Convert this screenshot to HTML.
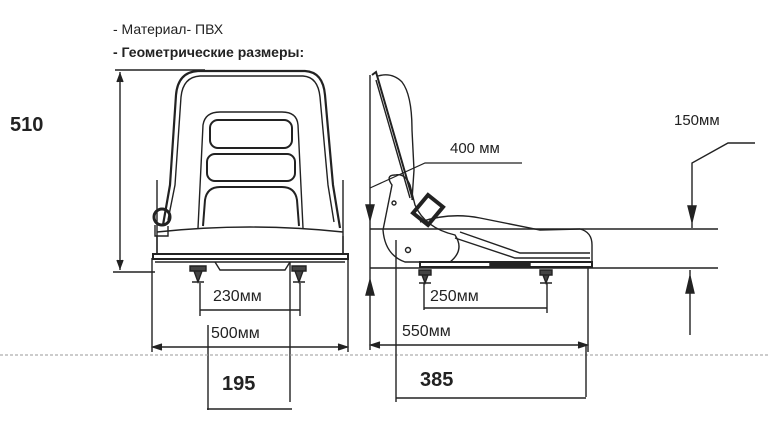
<!DOCTYPE html>
<html><head><meta charset="utf-8"><style>
html,body{margin:0;padding:0;background:#fff}
svg{display:block}
text{font-family:"Liberation Sans",sans-serif;fill:#222}
</style></head><body>
<svg width="768" height="443" viewBox="0 0 768 443" xmlns="http://www.w3.org/2000/svg">
<text x="113" y="34" font-size="14">- Материал- ПВХ</text>
<text x="113" y="57" font-size="14" font-weight="bold">- Геометрические размеры:</text>
<text x="10" y="131" font-size="20" font-weight="bold">510</text>

<g stroke="#222" fill="none" stroke-width="1.4">
<line x1="115" y1="70" x2="205" y2="70"/>
<line x1="120" y1="72" x2="120" y2="270"/>
<line x1="113" y1="272" x2="155" y2="272"/>
<path d="M117,82 L120,74 L123,82" fill="#222"/>
<path d="M117,260 L120,268 L123,260" fill="#222"/>
<path d="M163,225 L170,185 L176,95 Q178,72 198,71 L305,71 Q323,72 325,95 L333,185 L340,228" stroke-width="2.2"/>
<path d="M168,220 L175,185 L181,97 Q183,77 200,76 L303,76 Q318,77 320,97 L328,185 L334,222"/>
<line x1="157" y1="180" x2="157" y2="255"/>
<line x1="343" y1="180" x2="343" y2="255"/>
<path d="M198,228 L203,125 Q205,112 220,112 L282,112 Q297,112 298,125 L303,228"/>
<rect x="210" y="120" width="82" height="28" rx="8" stroke-width="2"/>
<rect x="207" y="154" width="88" height="27" rx="8" stroke-width="2"/>
<path d="M203,226 L205,200 Q207,187 220,187 L282,187 Q295,187 297,200 L299,226" stroke-width="2"/>
<circle cx="162" cy="217" r="8" stroke-width="3"/>
<path d="M155,225 L155,236 L168,236 L168,226"/>
<path d="M157,232 Q250,222 343,232"/>
<path d="M157,255 L157,236 M343,236 L343,255"/>
<rect x="153" y="254" width="195" height="5" stroke-width="2"/>
<line x1="155" y1="262" x2="345" y2="262"/>
<path d="M215,262 L220,270 L285,270 L290,262"/>
<path d="M190,266 h16 v5 h-16z M194,271 L198,282 L202,271 M192,282 h12" fill="#444"/>
<path d="M292,266 h14 v5 h-14z M295,271 L299,282 L303,271 M293,282 h12" fill="#444"/>
<line x1="200" y1="283" x2="200" y2="316"/>
<line x1="300" y1="283" x2="300" y2="316"/>
<line x1="200" y1="310" x2="300" y2="310"/>
<line x1="152" y1="258" x2="152" y2="352"/>
<line x1="348" y1="258" x2="348" y2="352"/>
<line x1="153" y1="347" x2="347" y2="347"/>
<path d="M162,344 L153,347 L162,350" fill="#222"/>
<path d="M338,344 L347,347 L338,350" fill="#222"/>
<line x1="208" y1="325" x2="208" y2="410"/>
<line x1="290" y1="262" x2="290" y2="402"/>
<line x1="207" y1="409" x2="292" y2="409"/>
</g>
<line x1="0" y1="355" x2="768" y2="355" stroke="#999" stroke-width="1" stroke-dasharray="3,2"/>
<text x="213" y="301" font-size="16">230мм</text>
<text x="211" y="338" font-size="16">500мм</text>
<text x="222" y="390" font-size="20" font-weight="bold">195</text>

<g stroke="#222" fill="none" stroke-width="1.4">
<line x1="370" y1="75" x2="370" y2="350"/>
<path d="M366,205 L370,220 L374,205 Z" fill="#222"/>
<path d="M366,295 L370,280 L374,295 Z" fill="#222"/>
<line x1="370" y1="229" x2="718" y2="229"/>
<line x1="370" y1="268" x2="718" y2="268"/>
<path d="M372,75 L376,72 L413,200" stroke-width="2"/>
<path d="M376,80 L410,198"/>
<path d="M378,76 Q392,72 402,82 Q412,95 412,130 L414,170 L412,200"/>
<path d="M522,163 L425,163 L370,188" stroke-width="1.2"/>
<path d="M392,185 Q385,175 395,175 Q405,173 410,185 L415,205 Q425,228 455,235 Q465,250 450,262 L405,262 Q385,255 383,230 Z"/>
<circle cx="394" cy="203" r="2"/>
<circle cx="408" cy="250" r="2.5"/>
<path d="M413,213 L428,195 L443,207 L428,225 Z" stroke-width="4"/>
<path d="M420,222 Q450,212 480,218 L540,230 L580,229 Q592,232 592,245 L592,262"/>
<path d="M460,232 L520,253 L590,253 M455,238 L515,258 L590,258"/>
<rect x="420" y="262" width="172" height="5" stroke-width="2"/>
<rect x="490" y="263" width="40" height="3" fill="#222"/>
<path d="M419,270 h12 v5 h-12z M422,275 L425,283 L428,275 M419,283 h12" fill="#444"/>
<path d="M540,270 h12 v5 h-12z M543,275 L546,283 L549,275 M540,283 h12" fill="#444"/>
<line x1="424" y1="283" x2="424" y2="310"/>
<line x1="547" y1="283" x2="547" y2="313"/>
<line x1="424" y1="308" x2="547" y2="308"/>
<line x1="371" y1="345" x2="587" y2="345"/>
<path d="M380,342 L371,345 L380,348" fill="#222"/>
<path d="M578,342 L587,345 L578,348" fill="#222"/>
<line x1="588" y1="268" x2="588" y2="352"/>
<line x1="396" y1="240" x2="396" y2="402"/>
<line x1="586" y1="345" x2="586" y2="397"/>
<line x1="396" y1="398" x2="586" y2="398"/>
<path d="M755,143 L728,143 L692,163 L692,228"/>
<path d="M688,206 L692,222 L696,206 Z" fill="#222"/>
<line x1="690" y1="270" x2="690" y2="335"/>
<path d="M686,293 L690,276 L694,293 Z" fill="#222"/>
</g>
<text x="450" y="153" font-size="15">400 мм</text>
<text x="674" y="125" font-size="15">150мм</text>
<text x="430" y="301" font-size="16">250мм</text>
<text x="402" y="336" font-size="16">550мм</text>
<text x="420" y="386" font-size="20" font-weight="bold">385</text>
</svg>
</body></html>
